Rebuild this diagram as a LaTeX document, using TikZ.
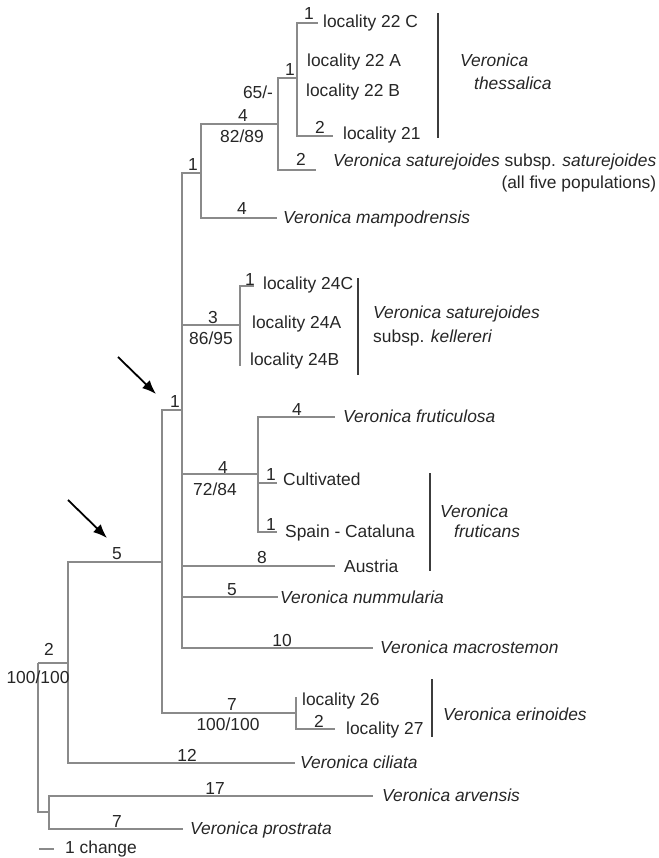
\documentclass[tikz,border=0pt]{standalone}
\usepackage{fontspec}
\setmainfont{Liberation Sans}
\usepackage{tikz}
\usetikzlibrary{arrows.meta}
\definecolor{branchgray}{HTML}{8A8A8A}
\definecolor{bargray}{HTML}{3C3C3C}
\definecolor{textgray}{HTML}{262626}

\begin{document}
\begin{tikzpicture}[x=1pt,y=-1pt]
    \tikzstyle{every node}=[inner sep=0pt,text=textgray,font=\fontsize{17.4}{20}\selectfont]
    \tikzstyle{branch}=[draw=branchgray,line width=1.3pt]
    \tikzstyle{cladebar}=[draw=bargray,line width=2.4pt]
    \tikzstyle{blen}=[anchor=base]
    \tikzstyle{taxon}=[anchor=base west]
    \tikzstyle{species}=[anchor=base west,font=\fontsize{17.4}{20}\selectfont\itshape]

   \useasboundingbox (0,0) rectangle (658,858);

   % internal nodes
   \coordinate (root) at (38,663);
   \coordinate (nA) at (68,663);
   \coordinate (nO) at (49,812);
   \coordinate (nB) at (162,562);
   \coordinate (nC) at (182,410);
   \coordinate (nD) at (201,173);
   \coordinate (nG) at (278,124);
   \coordinate (nH) at (297,78);
   \coordinate (nK) at (240,325);
   \coordinate (nF) at (258,474);
   \coordinate (nE) at (296,713);

   % tips
   \coordinate (t22C) at (318,23);
   \coordinate (t21) at (333,136);
   \coordinate (tSat) at (316,170);
   \coordinate (tMam) at (277,218);
   \coordinate (t24C) at (254,286);
   \coordinate (t24B) at (240,366);
   \coordinate (tFru) at (335,417);
   \coordinate (tCul) at (277,483);
   \coordinate (tSpa) at (277,532);
   \coordinate (tAus) at (335,566);
   \coordinate (tNum) at (278,597);
   \coordinate (tMac) at (373,648);
   \coordinate (t26) at (296,697);
   \coordinate (t27) at (335,729);
   \coordinate (tCil) at (295,763);
   \coordinate (tArv) at (373,796);
   \coordinate (tPro) at (183,829);

   \draw[branch] (root) |- (nA);
   \draw[branch] (root) |- (nO);
   \draw[branch] (nO) |- (tArv);
   \draw[branch] (nO) |- (tPro);
   \draw[branch] (nA) |- (nB);
   \draw[branch] (nA) |- (tCil);
   \draw[branch] (nB) |- (nC);
   \draw[branch] (nB) |- (nE);
   \draw[branch] (nE) |- (t26);
   \draw[branch] (nE) |- (t27);
   \draw[branch] (nC) |- (nD);
   \draw[branch] (nC) |- (nK);
   \draw[branch] (nC) |- (nF);
   \draw[branch] (nC) |- (tAus);
   \draw[branch] (nC) |- (tNum);
   \draw[branch] (nC) |- (tMac);
   \draw[branch] (nD) |- (nG);
   \draw[branch] (nD) |- (tMam);
   \draw[branch] (nG) |- (nH);
   \draw[branch] (nG) |- (tSat);
   \draw[branch] (nH) |- (t22C);
   \draw[branch] (nH) |- (t21);
   \draw[branch] (nK) |- (t24C);
   \draw[branch] (nK) |- (t24B);
   \draw[branch] (nF) |- (tFru);
   \draw[branch] (nF) |- (tCul);
   \draw[branch] (nF) |- (tSpa);

   % branch lengths and support
   \node[blen] (bl22C) at (309,20) {1};
   \node[blen] (blH) at (290,76) {1};
   \node[blen] (bsH) at (258,99) {65/-};
   \node[blen] (blG) at (243,122) {4};
   \node[blen] (bsG) at (242,143) {82/89};
   \node[blen] (bl21) at (320,134) {2};
   \node[blen] (blD) at (193,171) {1};
   \node[blen] (blSat) at (301,166) {2};
   \node[blen] (blMam) at (242,215) {4};
   \node[blen] (bl24C) at (250,285) {1};
   \node[blen] (blK) at (213,323) {3};
   \node[blen] (bsK) at (211,344) {86/95};
   \node[blen] (blC) at (175,407) {1};
   \node[blen] (blFru) at (297,415) {4};
   \node[blen] (blF) at (223,473) {4};
   \node[blen] (bsF) at (215,495) {72/84};
   \node[blen] (blCul) at (271,480) {1};
   \node[blen] (blSpa) at (271,530) {1};
   \node[blen] (blAus) at (262,563) {8};
   \node[blen] (blB) at (117,559) {5};
   \node[blen] (blNum) at (232,595) {5};
   \node[blen] (blMac) at (282,646) {10};
   \node[blen] (blA) at (49,655) {2};
   \node[blen] (bsA) at (38,683) {100/100};
   \node[blen] (blE) at (232,710) {7};
   \node[blen] (bsE) at (228,730) {100/100};
   \node[blen] (bl27) at (319,727) {2};
   \node[blen] (blCil) at (187,761) {12};
   \node[blen] (blArv) at (215,794) {17};
   \node[blen] (blPro) at (117,827) {7};

   % taxa
   \node[taxon] (x22C) at (323,28) {locality 22 C};
   \node[taxon] (x22A) at (307,67) {locality 22 A};
   \node[taxon] (x22B) at (306,97) {locality 22 B};
   \node[taxon] (x21) at (343,140) {locality 21};
   \node[taxon] (xSat) at (333,167) {\textit{Veronica saturejoides} subsp. \textit{saturejoides}};
   \node[anchor=base east] (xSat2) at (xSat.base east |- 0,189) {(all five populations)};
   \node[species] (xMam) at (283,224) {Veronica mampodrensis};
   \node[taxon] (x24C) at (263,290) {locality 24C};
   \node[taxon] (x24A) at (252,328) {locality 24A};
   \node[taxon] (x24B) at (250,365) {locality 24B};
   \node[species] (xFru) at (343,422) {Veronica fruticulosa};
   \node[taxon] (xCul) at (283,485) {Cultivated};
   \node[taxon] (xSpa) at (285,537) {Spain - Cataluna};
   \node[taxon] (xAus) at (344,572) {Austria};
   \node[species] (xNum) at (280,603) {Veronica nummularia};
   \node[species] (xMac) at (380,653) {Veronica macrostemon};
   \node[taxon] (x26) at (302,705) {locality 26};
   \node[taxon] (x27) at (346,734) {locality 27};
   \node[species] (xCil) at (300,768) {Veronica ciliata};
   \node[species] (xArv) at (382,801) {Veronica arvensis};
   \node[species] (xPro) at (190,834) {Veronica prostrata};

   % clade bars
   \coordinate (thesTop) at (438,13);
   \coordinate (thesBot) at (438,138);
   \draw[cladebar] (thesTop) -- (thesBot);
   \node[species] (thes1) at (460,67) {Veronica};
   \node[species] (thes2) at (474,90) {thessalica};

   \coordinate (kellTop) at (358,278);
   \coordinate (kellBot) at (358,375);
   \draw[cladebar] (kellTop) -- (kellBot);
   \node[species] (kell1) at (373,318) {Veronica saturejoides};
   \node[taxon] (kell2) at (373,342) {subsp. \textit{kellereri}};

   \coordinate (frutTop) at (430,473);
   \coordinate (frutBot) at (430,571);
   \draw[cladebar] (frutTop) -- (frutBot);
   \node[species] (frut1) at (440,517) {Veronica};
   \node[species] (frut2) at (454,537) {fruticans};

   \coordinate (erinTop) at (432,679);
   \coordinate (erinBot) at (432,737);
   \draw[cladebar] (erinTop) -- (erinBot);
   \node[species] (erin) at (443,720) {Veronica erinoides};

   % arrows
   \coordinate (arrUpS) at (118,357);
   \coordinate (arrUpE) at (156,394);
   \coordinate (arrLoS) at (68,500);
   \coordinate (arrLoE) at (107,538);
   \draw[-{Latex[length=14pt,width=11pt]},line width=1.8pt] (arrUpS) -- (arrUpE);
   \draw[-{Latex[length=14pt,width=11pt]},line width=1.8pt] (arrLoS) -- (arrLoE);

   % scale
   \coordinate (sc0) at (39,849);
   \coordinate (sc1) at (54,849);
   \draw[branch] (sc0) -- (sc1);
   \node[taxon] (scl) at (65,853) {1 change};

  \end{tikzpicture}
\end{document}
